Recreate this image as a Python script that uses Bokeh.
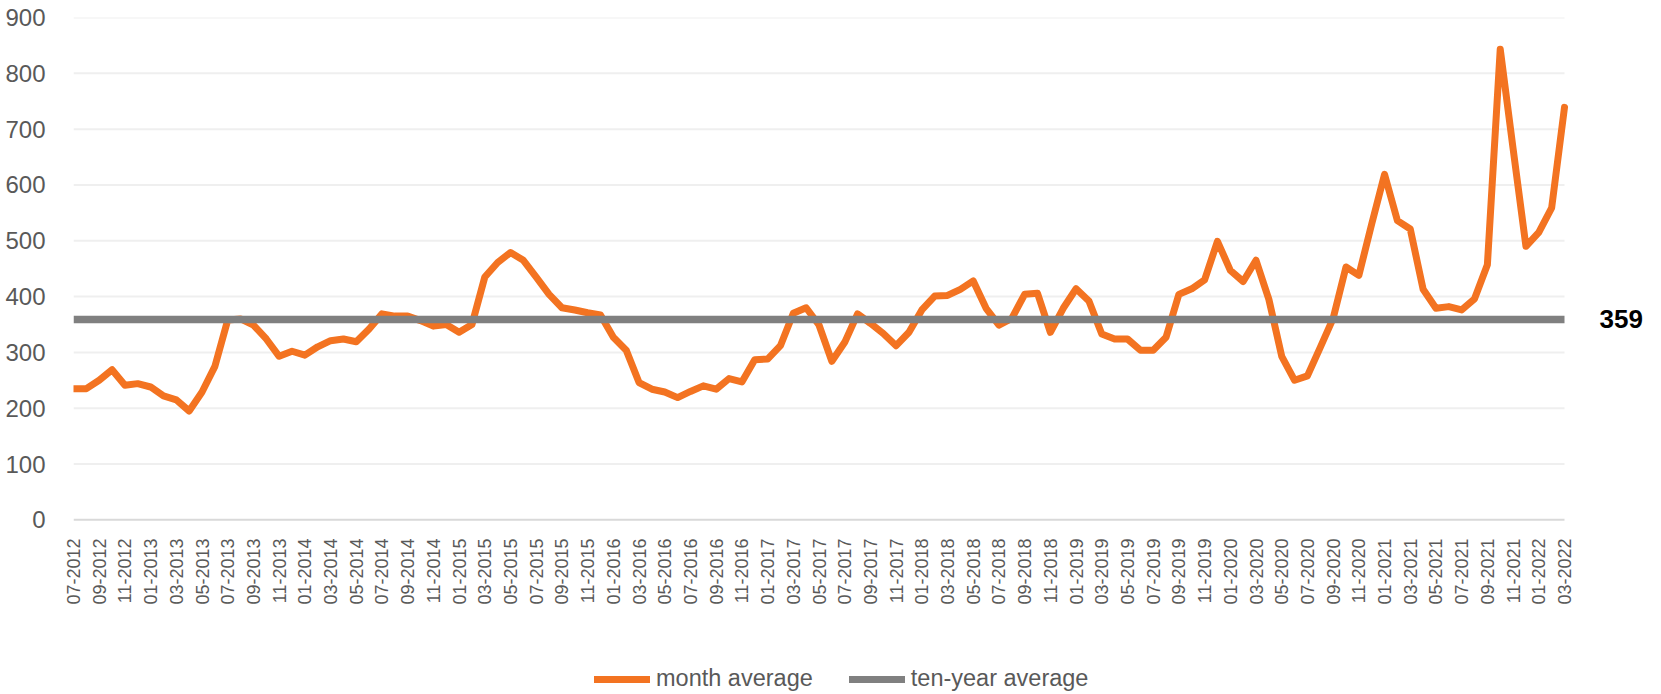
from math import pi
from bokeh.plotting import figure
from bokeh.layouts import column
from bokeh.models import Range1d, FixedTicker, Legend, LegendItem, Label
from bokeh.embed import file_html
from bokeh.resources import INLINE

# ---- data -------------------------------------------------------------
months = [f"{m:02d}-{y}" for y in range(2012, 2023) for m in range(1, 13)]
months = months[months.index("07-2012"):months.index("03-2022") + 1]

month_average = [
    235, 235, 250, 269, 241, 244,            # 07-2012 .. 12-2012
    238, 222, 215, 195, 229, 275, 358, 360, 349, 324, 293, 302,   # 2013
    295, 310, 321, 324, 319, 342, 369, 365, 365, 357, 347, 350,   # 2014
    336, 350, 435, 461, 479, 465, 435, 404, 380, 376, 371, 367,   # 2015
    327, 304, 246, 234, 229, 219, 230, 240, 234, 253, 247, 287,   # 2016
    288, 312, 370, 380, 349, 284, 318, 369, 352, 334, 312, 336,   # 2017
    376, 401, 402, 413, 428, 379, 349, 361, 404, 406, 336, 379,   # 2018
    414, 392, 333, 324, 324, 304, 304, 327, 404, 414, 430, 499,   # 2019
    447, 427, 465, 395, 293, 250, 258, 309, 361, 453, 438, 530,   # 2020
    619, 536, 521, 413, 379, 382, 376, 396, 457, 843, 665, 490,   # 2021
    515, 559, 739,                                                # 2022
]
ten_year_average = 359
tick_labels = months[::2]
y_ticks = list(range(0, 901, 100))

series_names = ["month average", "ten-year average"]

# ---- style / layout ---------------------------------------------------
ORANGE = "#F37321"
GRAY = "#808080"
TXT = "#595959"
FONT = "Liberation Sans"

W = 1653
H1, H2 = 611, 83
LEFT, TOP, BOTTOM = 73, 17, 90
DATA_W = 1491            # pixel width covered by the months

x = list(range(len(months)))
n_last = x[-1]
frame_w = W - LEFT
x_end = n_last * frame_w / DATA_W   # extra room on the right for the label

p = figure(width=W, height=H1, output_backend="svg", toolbar_location=None,
           x_range=Range1d(0, x_end), y_range=Range1d(-3, 900),
           min_border_left=LEFT, min_border_right=0, min_border_top=TOP,
           min_border_bottom=BOTTOM)
p.outline_line_color = None
p.background_fill_color = "white"
p.border_fill_color = "white"

# grid lines only over the data span
p.xgrid.visible = False
p.ygrid.visible = False
p.multi_line(xs=[[x[0], n_last] for _ in y_ticks[1:]],
             ys=[[t, t] for t in y_ticks[1:]],
             line_color="#EFEFEF", line_width=2, level="underlay")
# category axis line
p.line([x[0], n_last], [0, 0], line_color="#D9D9D9", line_width=2,
       level="underlay")

p.yaxis.ticker = FixedTicker(ticks=y_ticks)
p.yaxis.axis_line_color = None
p.yaxis.major_tick_line_color = None
p.yaxis.minor_tick_line_color = None
p.yaxis.major_label_standoff = 22
p.yaxis.major_label_text_color = TXT
p.yaxis.major_label_text_font = FONT
p.yaxis.major_label_text_font_size = "24px"

tick_pos = x[::2]
p.xaxis.ticker = FixedTicker(ticks=tick_pos)
p.xaxis.major_label_overrides = {t: lab for t, lab in zip(tick_pos, tick_labels)}
p.xaxis.major_label_orientation = pi / 2
p.xaxis.axis_line_color = None
p.xaxis.major_tick_line_color = None
p.xaxis.minor_tick_line_color = None
p.xaxis.major_label_standoff = 11
p.xaxis.major_label_text_color = TXT
p.xaxis.major_label_text_font = FONT
p.xaxis.major_label_text_font_size = "18px"

r1 = p.line(x, month_average, line_color=ORANGE, line_width=7,
            line_join="round", line_cap="round")
r2 = p.line([x[0], n_last], [ten_year_average, ten_year_average],
            line_color=GRAY, line_width=7.5)

p.add_layout(Label(x=n_last, y=ten_year_average, x_offset=35,
                   text=str(ten_year_average), text_baseline="middle",
                   text_align="left", text_font=FONT, text_font_style="bold",
                   text_font_size="26px", text_color="black"))

# ---- legend strip below the chart ------------------------------------
q = figure(width=W, height=H2, output_backend="svg", toolbar_location=None,
           x_range=Range1d(0, 1), y_range=Range1d(0, 1),
           x_axis_type=None, y_axis_type=None, min_border=0)
q.outline_line_color = None
q.background_fill_color = "white"
q.border_fill_color = "white"
# off-screen stand-ins that only give the legend its swatches
lr1 = q.line([0, 1], [-5, -5], line_color=ORANGE, line_width=7, line_cap="round")
lr2 = q.line([0, 1], [-5, -5], line_color=GRAY, line_width=7, line_cap="round")
legend = Legend(items=[LegendItem(label=series_names[0], renderers=[lr1]),
                       LegendItem(label=series_names[1], renderers=[lr2])],
                orientation="horizontal", location=(521, 2),
                padding=0, margin=0, spacing=36, label_standoff=6,
                glyph_width=56, glyph_height=20,
                label_text_font=FONT, label_text_font_size="23.5px",
                label_text_color=TXT, border_line_color=None,
                background_fill_alpha=0)
q.add_layout(legend, "center")

layout = column(p, q, spacing=0)
open("out.html", "w").write(file_html(layout, INLINE))
